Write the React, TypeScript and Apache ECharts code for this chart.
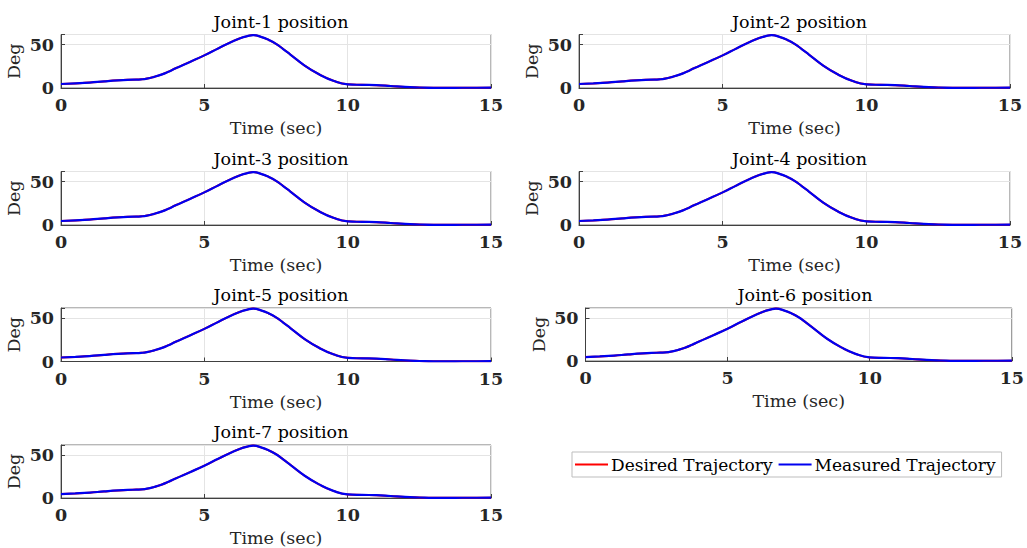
import React, { useEffect, useRef } from "react";
import * as echarts from "echarts";

// Time (sec)
const timeSec: number[] = [0, 0.5, 1, 1.5, 2, 2.5, 2.8, 3, 3.25, 3.5, 3.75, 4, 4.5, 5, 5.5, 6, 6.25, 6.5, 6.7, 7, 7.25, 7.5, 7.75, 8, 8.5, 9, 9.5, 10, 10.5, 11, 11.5, 12, 12.5, 13, 13.5, 14, 14.5, 15];
// Desired trajectory (deg)
const desiredDeg: number[] = [4.6, 5.3, 6.2, 7.6, 8.8, 9.6, 10.0, 10.8, 12.8, 15.4, 18.8, 22.7, 30, 37.5, 45.8, 53.8, 57.2, 59.6, 60.8, 58.5, 55.2, 50.8, 44.8, 38.5, 25.8, 15.8, 8.3, 4.2, 3.6, 3.3, 2.3, 1.2, 0.6, 0.2, 0.2, 0.3, 0.3, 0.4];
// Measured trajectory (deg)
const measuredDeg: number[] = [4.6, 5.3, 6.2, 7.6, 8.8, 9.6, 10.0, 10.8, 12.8, 15.4, 18.8, 22.7, 30, 37.5, 45.8, 53.8, 57.2, 59.6, 60.8, 58.5, 55.2, 50.8, 44.8, 38.5, 25.8, 15.8, 8.3, 4.2, 3.6, 3.3, 2.3, 1.2, 0.6, 0.2, 0.2, 0.3, 0.3, 0.4];

const jointTitles: string[] = ["Joint-1 position", "Joint-2 position", "Joint-3 position", "Joint-4 position", "Joint-5 position", "Joint-6 position", "Joint-7 position"];
const xTicks: number[] = [0, 5, 10, 15];
const yTicks: number[] = [0, 50];
const legendNames: string[] = ["Desired Trajectory", "Measured Trajectory"];

const FONT = "DejaVu Serif";
const FS = 17.5;

// panel layout [left, top, width, height]
const panels: number[][] = [
  [61, 34.5, 430, 53.5],
  [579, 34.5, 431, 53.5],
  [61, 171.5, 430, 53.5],
  [579, 171.5, 431, 53.5],
  [61, 308, 430, 53.5],
  [585.5, 308, 429, 53],
  [61, 445, 430, 53.5],
];

export default function App() {
  const ref = useRef<HTMLDivElement>(null);
  useEffect(() => {
    if (!ref.current) return;
    const chart = echarts.init(ref.current, null, { renderer: "svg" });
    const desired = timeSec.map((t, i) => [t, desiredDeg[i]]);
    const measured = timeSec.map((t, i) => [t, measuredDeg[i]]);

    const grids: any[] = [];
    const xAxes: any[] = [];
    const yAxes: any[] = [];
    const series: any[] = [];
    const titles: any[] = [];

    panels.forEach((p, i) => {
      const [l, t, w, h] = p;
      grids.push({
        left: l,
        top: t,
        width: w,
        height: h,
        show: true,
        borderColor: "#707070",
        borderWidth: 1,
        backgroundColor: "#ffffff",
      });
      xAxes.push({
        type: "value",
        gridIndex: i,
        min: 0,
        max: 15,
        interval: 5,
        name: "Time (sec)",
        nameLocation: "middle",
        nameGap: 31,
        nameTextStyle: { fontFamily: FONT, fontSize: FS, color: "#262626" },
        axisLine: { show: true, onZero: false, lineStyle: { color: "#404040", width: 1 } },
        axisTick: { show: true, inside: true, length: 4, lineStyle: { color: "#404040" } },
        axisLabel: {
          margin: 8,
          fontFamily: FONT,
          fontSize: FS,
          fontWeight: "bold",
          color: "#262626",
          formatter: (v: number) => (xTicks.includes(v) ? String(v) : ""),
        },
        splitLine: { show: true, lineStyle: { color: "#e4e4e4", width: 1 } },
      });
      yAxes.push({
        type: "value",
        gridIndex: i,
        min: 0,
        max: 61.5,
        interval: 50,
        name: "Deg",
        nameLocation: "middle",
        nameGap: 38,
        nameRotate: 90,
        nameTextStyle: { fontFamily: FONT, fontSize: FS, color: "#262626" },
        axisLine: { show: true, lineStyle: { color: "#404040", width: 1 } },
        axisTick: { show: true, inside: true, length: 4, lineStyle: { color: "#404040" } },
        axisLabel: {
          margin: 7,
          fontFamily: FONT,
          fontSize: FS,
          fontWeight: "bold",
          color: "#262626",
          formatter: (v: number) => (yTicks.includes(v) ? String(v) : ""),
        },
        splitLine: { show: true, lineStyle: { color: "#e4e4e4", width: 1 } },
      });
      series.push({
        name: legendNames[0],
        type: "line",
        xAxisIndex: i,
        yAxisIndex: i,
        data: desired,
        smooth: 0.5,
        showSymbol: false,
        lineStyle: { color: "#ff0000", width: 2 },
        itemStyle: { color: "#ff0000" },
      });
      series.push({
        name: legendNames[1],
        type: "line",
        xAxisIndex: i,
        yAxisIndex: i,
        data: measured,
        smooth: 0.5,
        showSymbol: false,
        lineStyle: { color: "#0000f0", width: 2.2 },
        itemStyle: { color: "#0000f0" },
      });
      titles.push({
        text: jointTitles[i],
        left: l + w / 2,
        top: t - 27,
        textAlign: "center",
        textStyle: { fontFamily: FONT, fontSize: FS, fontWeight: "normal", color: "#000000" },
      });
    });

    chart.setOption({
      animation: false,
      backgroundColor: "#ffffff",
      title: titles,
      grid: grids,
      xAxis: xAxes,
      yAxis: yAxes,
      series,
      legend: {
        data: legendNames.map((n) => ({ name: n, icon: "rect" })),
        left: 572,
        top: 452,
        itemWidth: 33,
        itemHeight: 2,
        itemGap: 6,
        padding: [4, 6, 4, 3],
        borderColor: "#bdbdbd",
        borderWidth: 1,
        backgroundColor: "#ffffff",
        textStyle: { fontFamily: FONT, fontSize: 17, color: "#000000", padding: [0, 0, 0, -2] },
      },
    });
    return () => chart.dispose();
  }, []);
  return (
    <div
      ref={ref}
      style={{ position: "absolute", left: 0, top: 0, width: 1027, height: 548 }}
    />
  );
}
